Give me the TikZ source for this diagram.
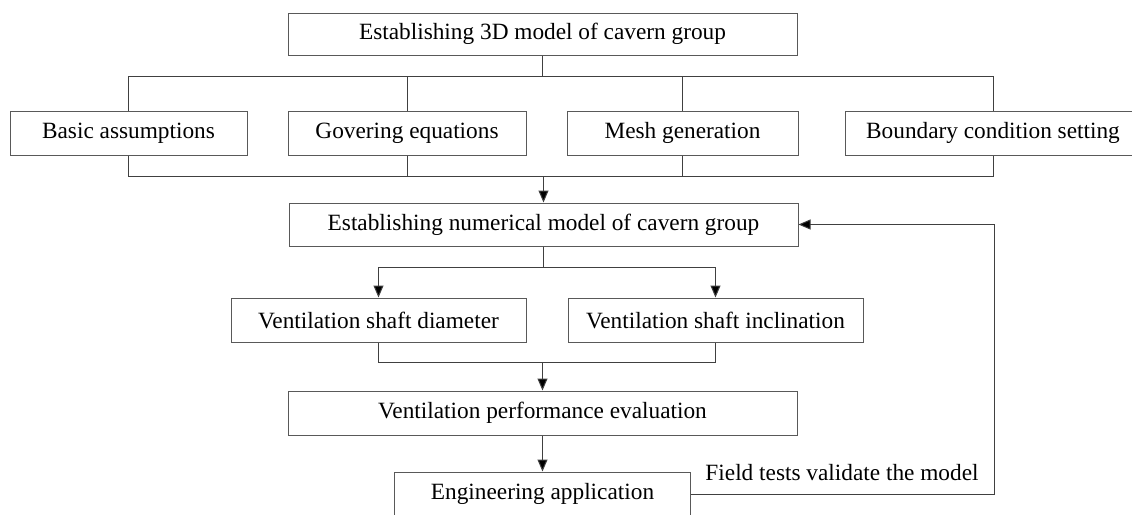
\documentclass[tikz,border=0pt]{standalone}
\usepackage{fontspec}
\setmainfont{Liberation Serif}
\usetikzlibrary{arrows.meta}
\begin{document}
\begin{tikzpicture}[x=1pt,y=-1pt,
  box/.style={draw=black!65,line width=1pt,fill=white,inner sep=0pt,
    font=\fontsize{23.3}{27}\selectfont,text=black},
  conn/.style={draw=black!75,line width=1pt},
  arr/.style={conn,-{Triangle[length=12pt,width=10pt,fill=black]}},
  lbl/.style={font=\fontsize{23.3}{27}\selectfont,text=black,inner sep=0pt}]
\useasboundingbox (0,0) rectangle (1132,514);
\node[box,minimum width=509pt,minimum height=42pt] (top) at (542.5,34) {Establishing 3D model of cavern group};
\node[box,minimum width=237pt,minimum height=44pt] (basic) at (128.5,133) {Basic assumptions};
\node[box,minimum width=238pt,minimum height=44pt] (gov) at (407,133) {Govering equations};
\node[box,minimum width=231pt,minimum height=44pt] (mesh) at (682.5,133) {Mesh generation};
\node[box,minimum width=296pt,minimum height=44pt] (bound) at (993,133) {Boundary condition setting};
\node[box,minimum width=509pt,minimum height=43pt] (num) at (543.5,224.5) {Establishing numerical model of cavern group};
\node[box,minimum width=295pt,minimum height=44pt] (dia) at (378.5,320) {Ventilation shaft diameter};
\node[box,minimum width=295pt,minimum height=44pt] (inc) at (715.5,320) {Ventilation shaft inclination};
\node[box,minimum width=509pt,minimum height=44pt] (perf) at (542.5,413) {Ventilation performance evaluation};
\node[box,minimum width=296pt,minimum height=44pt] (eng) at (542.5,494) {Engineering application};
\node[lbl] (fl) at (842,473) {Field tests validate the model};
\coordinate (b1) at (0,76);
\coordinate (b2) at (0,176);
\coordinate (b3) at (0,267);
\coordinate (b4) at (0,362);
\coordinate (fb) at (994,0);
% top bus
\draw[conn] (top.south) -- (top.south |- b1);
\draw[conn] (basic.north) |- (b1 -| bound.north) -- (bound.north);
\draw[conn] (gov.north) -- (gov.north |- b1);
\draw[conn] (mesh.north) -- (mesh.north |- b1);
% bottom bus
\draw[conn] (basic.south) |- (b2 -| bound.south) -- (bound.south);
\draw[conn] (gov.south) -- (gov.south |- b2);
\draw[conn] (mesh.south) -- (mesh.south |- b2);
\draw[arr] (num.north |- b2) -- (num.north);
% branch
\draw[conn] (num.south) -- (num.south |- b3);
\draw[arr] (b3 -| num.south) -| (dia.north);
\draw[arr] (b3 -| num.south) -| (inc.north);
% merge
\draw[conn] (dia.south) |- (b4 -| inc.south) -- (inc.south);
\draw[arr] (perf.north |- b4) -- (perf.north);
\draw[arr] (perf.south) -- (eng.north);
% feedback
\draw[arr] (eng.east) -| (fb |- num.east) -- (num.east);
\end{tikzpicture}
\end{document}
